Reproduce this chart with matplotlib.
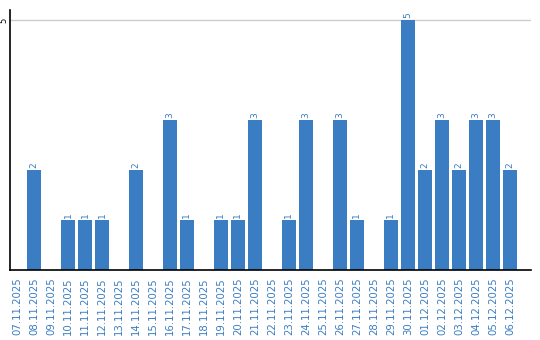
import matplotlib
matplotlib.use('Agg')
import matplotlib.pyplot as plt

dates = ['07.11.2025', '08.11.2025', '09.11.2025', '10.11.2025', '11.11.2025',
         '12.11.2025', '13.11.2025', '14.11.2025', '15.11.2025', '16.11.2025',
         '17.11.2025', '18.11.2025', '19.11.2025', '20.11.2025', '21.11.2025',
         '22.11.2025', '23.11.2025', '24.11.2025', '25.11.2025', '26.11.2025',
         '27.11.2025', '28.11.2025', '29.11.2025', '30.11.2025', '01.12.2025',
         '02.12.2025', '03.12.2025', '04.12.2025', '05.12.2025', '06.12.2025']
counts = [0, 2, 0, 1, 1, 1, 0, 2, 0, 3,
          1, 0, 1, 1, 3, 0, 1, 3, 0, 3,
          1, 0, 1, 5, 2, 3, 2, 3, 3, 2]
yticks = [5]

blue = '#3a7dc2'
W, H = 540, 340
fig = plt.figure(figsize=(W/100, H/100), dpi=100)
# axes box in pixels: left 10, right 531, bottom 270, top 10
ax = fig.add_axes([10/W, (H-270)/H, 521/W, 260/H])

x = list(range(len(dates)))
ax.bar(x, counts, width=0.82, color=blue, zorder=2)
for i, v in zip(x, counts):
    if v > 0:
        ax.text(i, v + 0.04, str(v), rotation=90, ha='center', va='bottom',
                color=blue, fontsize=6.5, clip_on=False)

ax.set_xlim(-0.41, 30.24)
ax.set_ylim(0, 5.2)
ax.set_yticks(yticks)
ax.set_yticklabels([str(t) for t in yticks], rotation=90, va='center', fontsize=6)
ax.tick_params(axis='y', length=0, pad=1)
ax.set_xticks(x)
ax.set_xticklabels(dates, rotation=90, color=blue, fontsize=7.3)
ax.tick_params(axis='x', length=0, pad=5)
ax.grid(axis='y', color='#cccccc', linewidth=1, zorder=0)

for s in ['top', 'right']:
    ax.spines[s].set_visible(False)
ax.spines['left'].set_linewidth(1.2)
ax.spines['bottom'].set_linewidth(1.2)

fig.savefig('out.png', dpi=100)
